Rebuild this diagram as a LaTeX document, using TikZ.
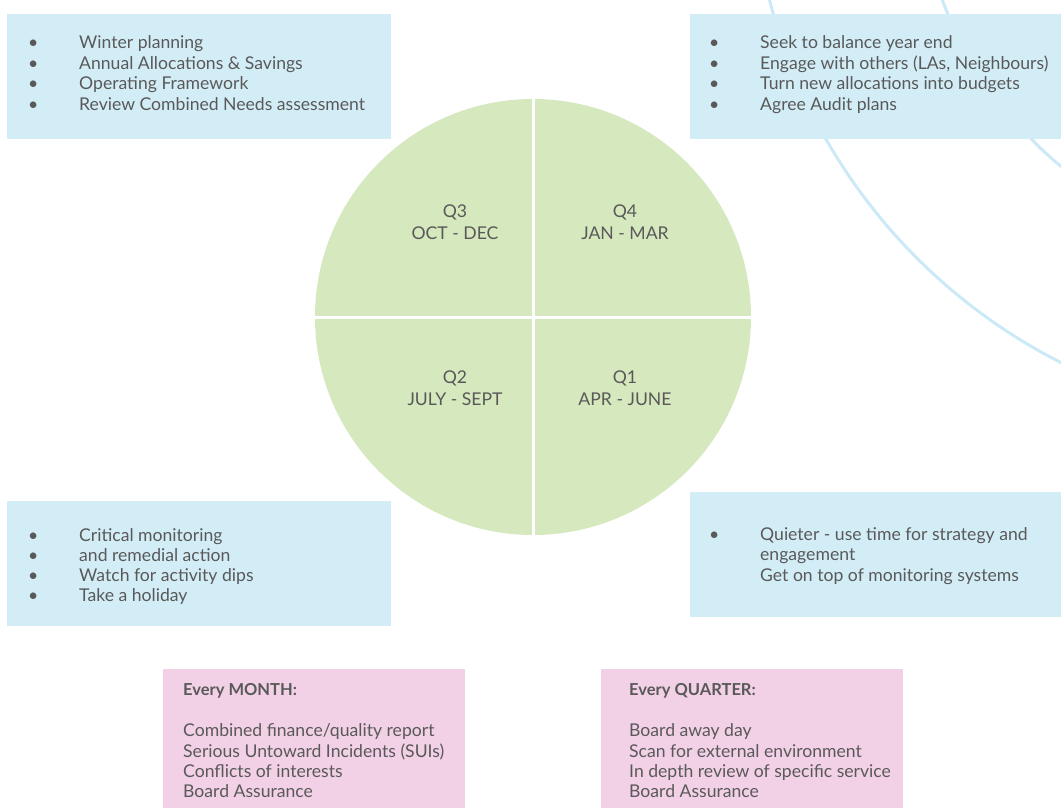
\documentclass[tikz,border=0pt]{standalone}
\usepackage{fontspec}
\setmainfont{Lato}
\definecolor{boxblue}{HTML}{D3EDF7}
\definecolor{arcblue}{HTML}{CBE9F6}
\definecolor{quartgreen}{HTML}{D6E8BD}
\definecolor{boxpink}{HTML}{F2D1E6}
\definecolor{txtgray}{HTML}{595959}
\begin{document}
\begin{tikzpicture}[x=1pt,y=-1pt,
  bluebox/.style={fill=boxblue,draw=none,rectangle,anchor=north west,inner sep=0pt},
  pinkbox/.style={fill=boxpink,draw=none,rectangle,anchor=north west,inner sep=0pt},
  itemtxt/.style={anchor=base west,inner sep=0pt,text=txtgray,font=\fontsize{17.6}{20}\selectfont},
  headtxt/.style={anchor=base west,inner sep=0pt,text=txtgray,font=\fontsize{16.5}{19}\bfseries},
  qtxt/.style={anchor=base,inner sep=0pt,text=txtgray,font=\fontsize{17.6}{20}\selectfont},
  arcline/.style={draw=arcblue,line width=3pt}]
\useasboundingbox (0,0) rectangle (1061,808);
\newcommand{\bul}{\makebox[50pt][l]{\hspace*{-1pt}\textbullet}}
% arcs
\begin{scope}
\clip (0,0) rectangle (1061,808);
\coordinate (arcc) at (1315,-140);
\draw[arcline] (arcc) circle[radius=563pt];
\draw[arcline] (arcc) circle[radius=398pt];
\end{scope}
% circle
\coordinate (cc) at (533,317);
\fill[quartgreen] (cc) circle[radius=218pt];
\draw[white,line width=3pt] (315,317) -- (751,317);
\draw[white,line width=3pt] (533,99) -- (533,535);
\node[qtxt] (q3a) at (455,217.7) {Q3};
\node[qtxt] (q3b) at (455,239) {OCT - DEC};
\node[qtxt] (q4a) at (625,217.7) {Q4};
\node[qtxt] (q4b) at (625,239) {JAN - MAR};
\node[qtxt] (q2a) at (455,383) {Q2};
\node[qtxt] (q2b) at (455,405) {JULY - SEPT};
\node[qtxt] (q1a) at (625,383) {Q1};
\node[qtxt] (q1b) at (625,405) {APR - JUNE};
% boxes
\node[bluebox,minimum width=384pt,minimum height=125pt] (boxtl) at (7,14) {};
\node[bluebox,minimum width=371pt,minimum height=125pt] (boxtr) at (690,14) {};
\node[bluebox,minimum width=384pt,minimum height=125pt] (boxbl) at (7,501) {};
\node[bluebox,minimum width=371pt,minimum height=125pt] (boxbr) at (690,492) {};
\node[pinkbox,minimum width=302pt,minimum height=139pt] (pinkm) at (163,669) {};
\node[pinkbox,minimum width=302pt,minimum height=139pt] (pinkq) at (601,669) {};
% top-left
\node[itemtxt] (tl1) at (29,49) {\bul Winter planning};
\node[itemtxt] (tl2) at (29,69.5) {\bul Annual Allocations \& Savings};
\node[itemtxt] (tl3) at (29,90) {\bul Operating Framework};
\node[itemtxt] (tl4) at (29,110.5) {\bul Review Combined Needs assessment};
% top-right
\node[itemtxt] (tr1) at (710,49) {\bul Seek to balance year end};
\node[itemtxt] (tr2) at (710,69.5) {\bul Engage with others (LAs, Neighbours)};
\node[itemtxt] (tr3) at (710,90) {\bul Turn new allocations into budgets};
\node[itemtxt] (tr4) at (710,110.5) {\bul Agree Audit plans};
% bottom-left
\node[itemtxt] (bl1) at (29,541.5) {\bul Critical monitoring};
\node[itemtxt] (bl2) at (29,561.5) {\bul and remedial action};
\node[itemtxt] (bl3) at (29,581.5) {\bul Watch for activity dips};
\node[itemtxt] (bl4) at (29,601) {\bul Take a holiday};
% bottom-right
\node[itemtxt] (br1) at (710,540) {\bul Quieter - use time for strategy and};
\node[itemtxt] (br2) at (710,560.5) {\hspace*{50pt}engagement};
\node[itemtxt] (br3) at (710,581) {\hspace*{50pt}Get on top of monitoring systems};
% pink month
\node[headtxt] (pm0) at (183,695) {Every MONTH:};
\node[itemtxt] (pm1) at (183,736.7) {Combined finance/quality report};
\node[itemtxt] (pm2) at (183,757) {Serious Untoward Incidents (SUIs)};
\node[itemtxt] (pm3) at (183,777) {Conflicts of interests};
\node[itemtxt] (pm4) at (183,797) {Board Assurance};
% pink quarter
\node[headtxt] (pq0) at (629,695) {Every QUARTER:};
\node[itemtxt] (pq1) at (629,736.7) {Board away day};
\node[itemtxt] (pq2) at (629,757) {Scan for external environment};
\node[itemtxt] (pq3) at (629,777) {In depth review of specific service};
\node[itemtxt] (pq4) at (629,797) {Board Assurance};
\end{tikzpicture}
\end{document}
